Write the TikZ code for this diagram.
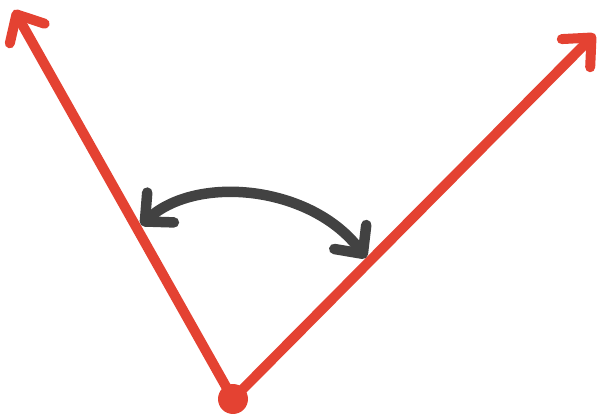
\documentclass[tikz,border=0pt]{standalone}
\usetikzlibrary{arrows.meta}
\definecolor{cred}{RGB}{228,66,50}
\definecolor{cgray}{RGB}{66,66,66}
\tikzset{sketch/.style={x=0.02cm,y=-0.02cm},
  ray/.style={cred,line width=0.2cm,line cap=round,line join=round,
    -{Straight Barb[length=0.44cm,width=0.8cm,round]}},
  swing/.style={cgray,line width=0.21cm,line cap=round,line join=round,
    {Straight Barb[length=0.42cm,width=0.8cm,round]}-{Straight Barb[length=0.42cm,width=0.8cm,round]}}}
\begin{document}
\begin{tikzpicture}[sketch]
    \useasboundingbox (0,0) rectangle (608,418);
    \node[circle,fill=cred,inner sep=0pt,minimum size=0.6cm] (vertex) at (233,399) {};
    \coordinate (tipL) at (14,10);
    \coordinate (tipR) at (595,34);
    \coordinate (armL) at (141,225);
    \coordinate (armR) at (366,258);
    \draw[ray] (vertex.center) -- (tipL);
    \draw[ray] (vertex.center) -- (tipR);
    \draw[swing] (armL) .. controls (198,174) and (312,186) .. (armR);
  \end{tikzpicture}
\end{document}
